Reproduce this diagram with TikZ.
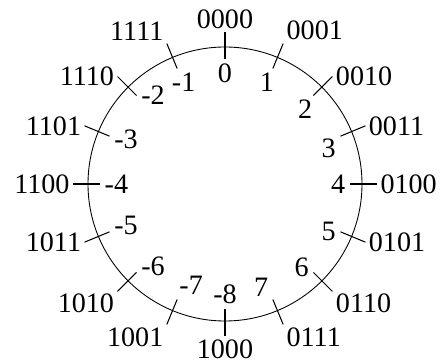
\documentclass[tikz,border=0pt]{standalone}
\usepackage{fontspec}
\setmainfont{Liberation Serif}
\usetikzlibrary{positioning}
\tikzset{dial/.style = {line width=0.5pt}}
\tikzset{notch/.style = {line width=0.6pt}}
\tikzset{bits/.style = {inner sep=1.8pt}}
\tikzset{val/.style = {inner sep=2.5pt}}

\begin{document}
\begin{tikzpicture}[x=0.02cm, y=0.02cm, font=\fontsize{16}{19}\selectfont]
    \useasboundingbox (0,0) rectangle (441,362);
    \begin{scope}[shift={(225,178)}]
      \draw[dial] (0,0) circle (137);
      % one notch per 4-bit pattern, value inside, pattern outside
      \foreach \k/\bin/\dec/\outa/\ina in {0/0000/0/south/90, 1/0001/1/south west/67.5,
          2/0010/2/west/60, 3/0011/3/west/45,
          4/0100/4/west/0, 5/0101/5/west/0, 6/0110/6/160/335, 7/0111/7/north west/315,
          8/1000/-8/north/270, 9/1001/-7/north east/225, 10/1010/-6/20/200,
          11/1011/-5/east/200, 12/1100/-4/east/180, 13/1101/-3/east/170,
          14/1110/-2/east/180, 15/1111/-1/south east/115} {
        \pgfmathsetmacro{\ang}{mod(450-22.5*\k,360)}
        \coordinate (in\k) at (\ang:125);
        \coordinate (out\k) at (\ang:152);
        \draw[notch] (in\k) -- (out\k);
        \node[bits, anchor=\outa] (bin\k) at (out\k) {\bin};
        \node[val, anchor=\ina] (dec\k) at (in\k) {\dec};
      }
    \end{scope}
\end{tikzpicture}
\end{document}
